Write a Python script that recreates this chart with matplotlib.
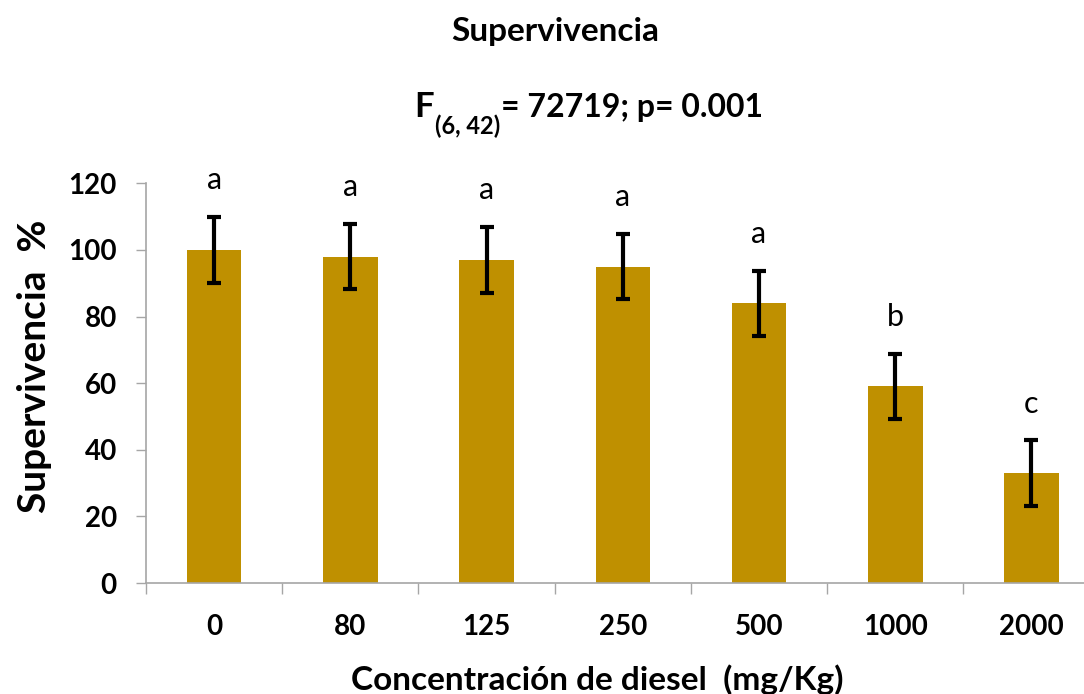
import matplotlib
matplotlib.use("Agg")
import matplotlib.pyplot as plt
import numpy as np

plt.rcParams['font.family'] = ['Lato', 'DejaVu Sans']

concentraciones = ['0', '80', '125', '250', '500', '1000', '2000']
supervivencia = [100, 98, 97, 95, 84, 59, 33]
error = [9.8, 9.8, 9.8, 9.8, 9.8, 9.8, 9.8]
letras = ['a', 'a', 'a', 'a', 'a', 'b', 'c']

fig = plt.figure(figsize=(10.84, 6.94), dpi=100)
ax = fig.add_axes([0.1347, 0.1599, 0.8797, 0.576])

x = np.arange(len(concentraciones))
ax.bar(x, supervivencia, width=0.4, color='#BF9000', zorder=2)
ax.errorbar(x, supervivencia, yerr=error, fmt='none', ecolor='black',
            elinewidth=3, capsize=5, capthick=3, zorder=3)

for xi, v, e, l in zip(x, supervivencia, error, letras):
    ax.annotate(l, (xi, v + e), xytext=(0, 20), textcoords='offset points',
                ha='center', va='baseline', fontsize=22, color='black')

ax.set_xlim(-0.5, len(concentraciones) - 0.5)
ax.set_ylim(0, 120)
ax.set_yticks(range(0, 121, 20))
ax.set_xticks(x)
ax.set_xticklabels(concentraciones, fontsize=20, fontweight='bold')
ax.set_xticks(np.arange(-0.5, len(concentraciones)), minor=True)
ax.tick_params(axis='x', which='major', length=0, pad=22)
ax.tick_params(axis='x', which='minor', length=8, color='#a6a6a6', width=1)
ax.tick_params(axis='y', length=7, color='#a6a6a6', width=1, pad=14)
for lab in ax.get_yticklabels():
    lab.set_fontsize(20)
    lab.set_fontweight('bold')

for s in ['top', 'right']:
    ax.spines[s].set_visible(False)
for s in ['left', 'bottom']:
    ax.spines[s].set_color('#a6a6a6')
    ax.spines[s].set_linewidth(1.2)

fig.text(35 / 1084, 1 - 366 / 694, 'Supervivencia  %', rotation=90,
         ha='center', va='center', fontsize=28, fontweight='bold')
fig.text(0.5512, 0.0201, 'Concentración de diesel  (mg/Kg)', ha='center',
         va='center', fontsize=24, fontweight='bold')
fig.text(0.512, 0.955, 'Supervivencia', ha='center', va='center',
         fontsize=24, fontweight='bold')

# F-statistic line with subscript
fig.canvas.draw()
r = fig.canvas.get_renderer()
t1 = fig.text(414 / 1084, 1 - 117 / 694, 'F', fontsize=25, fontweight='bold',
              ha='left', va='baseline')
bb = t1.get_window_extent(r)
t2 = fig.text(bb.x1 / 1084 + 0.001, 1 - 134 / 694, '(6, 42)', fontsize=17,
              fontweight='bold', ha='left', va='baseline')
bb2 = t2.get_window_extent(r)
fig.text(bb2.x1 / 1084 + 0.001, 1 - 117 / 694, '= 72719; p= 0.001',
         fontsize=23, fontweight='bold', ha='left', va='baseline')

fig.savefig('out.png', dpi=100)
